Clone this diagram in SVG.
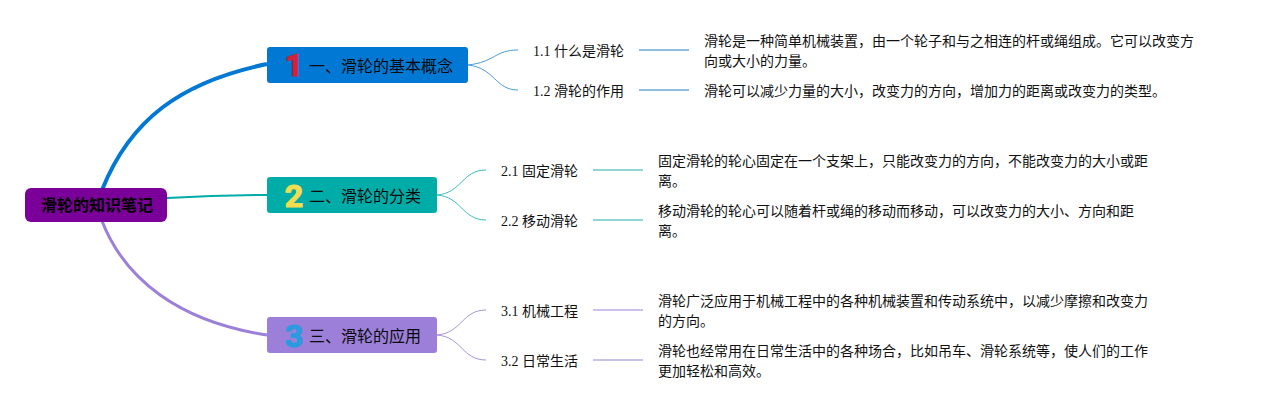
<svg xmlns="http://www.w3.org/2000/svg" width="1264" height="410" viewBox="0 0 1264 410">
<style>
text{font-family:"Liberation Serif","Noto Sans CJK SC",sans-serif;font-size:14px;fill:#111}
text.b{font-size:16px;fill:#0a0a0a}
text.r{font-size:16px;font-weight:bold;fill:#000}
text.n{font-family:Roboto,sans-serif;font-size:32px;font-weight:bold;stroke-width:1.2;stroke-linejoin:round;text-anchor:middle}
path{fill:none}
.t1{stroke:#0078d4}.t2{stroke:#00aca8}.t3{stroke:#9b7fd8}
.l1{stroke:#6cabd8;stroke-width:1.5}.l2{stroke:#6cc9c6;stroke-width:1.5}.l3{stroke:#bcaee2;stroke-width:1.5}
.k1{stroke:#4a9bd8}.k2{stroke:#3dbdb9}.k3{stroke:#a793dc}
</style>
<rect width="1264" height="410" fill="#fff"/>
<g id="connectors">
<path class="t1" stroke-width="4" d="M102 190C130 120 180 82 267 64"/>
<path class="t2" stroke-width="2" d="M167 198C200 196 235 195 267 195"/>
<path class="t3" stroke-width="3" d="M102 221C125 280 180 322 267 335"/>
<path class="k1" stroke-width="1" d="M468 65C495 62 495 50 518 50M468 65C495 68 495 90 518 90"/>
<path class="k2" stroke-width="1" d="M437 195C462 193 462 170 486 170M437 195C462 197 462 220 486 220"/>
<path class="k3" stroke-width="1" d="M437 335C462 333 462 310 486 310M437 335C462 337 462 360 486 360"/>
<path class="l1" d="M639 50H689M639 90H689"/>
<path class="l2" d="M593 170H643M593 220H643"/>
<path class="l3" d="M593 310H643M593 360H643"/>
</g>
<g id="root"><rect x="25" y="188" width="142" height="34" rx="6" fill="#7b0099"/><text class="r" x="41" y="211">滑轮的知识笔记</text></g>
<g id="topic1"><rect x="267" y="47" width="201" height="36" rx="3" fill="#0078d4"/><text class="n" x="294" y="76" style="fill:#d5203a;stroke:#d5203a">1</text><text class="b" x="309" y="72">一、滑轮的基本概念</text></g>
<g id="topic2"><rect x="267" y="177" width="170" height="36" rx="3" fill="#00aca8"/><text class="n" x="294" y="207" style="fill:#f2dc50;stroke:#f2dc50">2</text><text class="b" x="309" y="202">二、滑轮的分类</text></g>
<g id="topic3"><rect x="267" y="317" width="170" height="36" rx="3" fill="#9b7fd8"/><text class="n" x="294" y="347" style="fill:#2a9be0;stroke:#2a9be0">3</text><text class="b" x="309" y="342">三、滑轮的应用</text></g>
<g id="n11"><text x="533" y="56">1.1 什么是滑轮</text></g>
<g id="n12"><text x="533" y="96">1.2 滑轮的作用</text></g>
<g id="n21"><text x="501" y="176">2.1 固定滑轮</text></g>
<g id="n22"><text x="501" y="226">2.2 移动滑轮</text></g>
<g id="n31"><text x="501" y="316">3.1 机械工程</text></g>
<g id="n32"><text x="501" y="366">3.2 日常生活</text></g>
<g id="d11"><text x="704" y="46">滑轮是一种简单机械装置，由一个轮子和与之相连的杆或绳组成。它可以改变方</text><text x="704" y="66">向或大小的力量。</text></g>
<g id="d12"><text x="704" y="96">滑轮可以减少力量的大小，改变力的方向，增加力的距离或改变力的类型。</text></g>
<g id="d21"><text x="658" y="166">固定滑轮的轮心固定在一个支架上，只能改变力的方向，不能改变力的大小或距</text><text x="658" y="186">离。</text></g>
<g id="d22"><text x="658" y="216">移动滑轮的轮心可以随着杆或绳的移动而移动，可以改变力的大小、方向和距</text><text x="658" y="236">离。</text></g>
<g id="d31"><text x="658" y="306">滑轮广泛应用于机械工程中的各种机械装置和传动系统中，以减少摩擦和改变力</text><text x="658" y="326">的方向。</text></g>
<g id="d32"><text x="658" y="356">滑轮也经常用在日常生活中的各种场合，比如吊车、滑轮系统等，使人们的工作</text><text x="658" y="376">更加轻松和高效。</text></g>
</svg>
